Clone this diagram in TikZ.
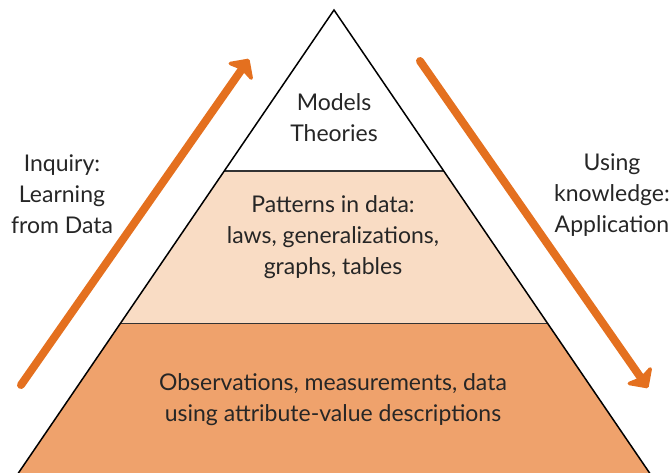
\documentclass[tikz,border=0pt]{standalone}
\usepackage{fontspec}
\setmainfont{Lato}
\usetikzlibrary{arrows.meta}
\definecolor{midfill}{HTML}{F9DCC4}
\definecolor{lowfill}{HTML}{EFA26C}
\definecolor{arroworange}{HTML}{E4701F}
\definecolor{textgrey}{HTML}{262626}
\definecolor{linegrey}{HTML}{333333}
\tikzset{
  lbl/.style={align=center, text=textgrey, font=\fontsize{23}{31}\selectfont, inner sep=0pt},
  bigarrow/.style={draw=arroworange, line width=8pt, line cap=round,
     -{Stealth[length=18pt, width=36pt, inset=4pt, round=false]}},
  layerline/.style={draw=linegrey, line width=1.8pt},
  edge/.style={draw=black, line width=1.5pt}
}
\begin{document}
\begin{tikzpicture}[x=1pt,y=-1pt]
\useasboundingbox (0,0) rectangle (672,472);
\clip (0,0) rectangle (672,472);
% geometry
\coordinate (apex) at (334,10);
\coordinate (ml) at (224.2,171);
\coordinate (mr) at (443.8,171);
\coordinate (ll) at (120.2,323.5);
\coordinate (lr) at (547.8,323.5);
\coordinate (bl) at (15,478);
\coordinate (br) at (653,478);
% fills
\fill[midfill] (ml) -- (mr) -- (lr) -- (ll) -- cycle;
\fill[lowfill] (ll) -- (lr) -- (br) -- (bl) -- cycle;
% layer lines
\draw[layerline] (ml) -- (mr);
\draw[layerline] (ll) -- (lr);
% sides
\draw[edge, line join=miter] (bl) -- (apex) -- (br);
% arrows
\coordinate (upTail) at (21,385);
\coordinate (upTip) at (249,59);
\coordinate (dnTail) at (420,61);
\coordinate (dnTip) at (648,388);
\draw[bigarrow] (upTail) -- (upTip);
\draw[bigarrow] (dnTail) -- (dnTip);
% texts
\node[lbl] (top) at (334,118) {Models\\Theories};
\node[lbl] (mid) at (333,237) {Patterns in data:\\laws, generalizations,\\graphs, tables};
\node[lbl] (low) at (333,400) {Observations, measurements, data\\using attribute-value descriptions};
\node[lbl] (inq) at (62,194) {Inquiry:\\Learning\\from Data};
\node[lbl] (use) at (612,195) {Using\\knowledge:\\Application};
\end{tikzpicture}
\end{document}
